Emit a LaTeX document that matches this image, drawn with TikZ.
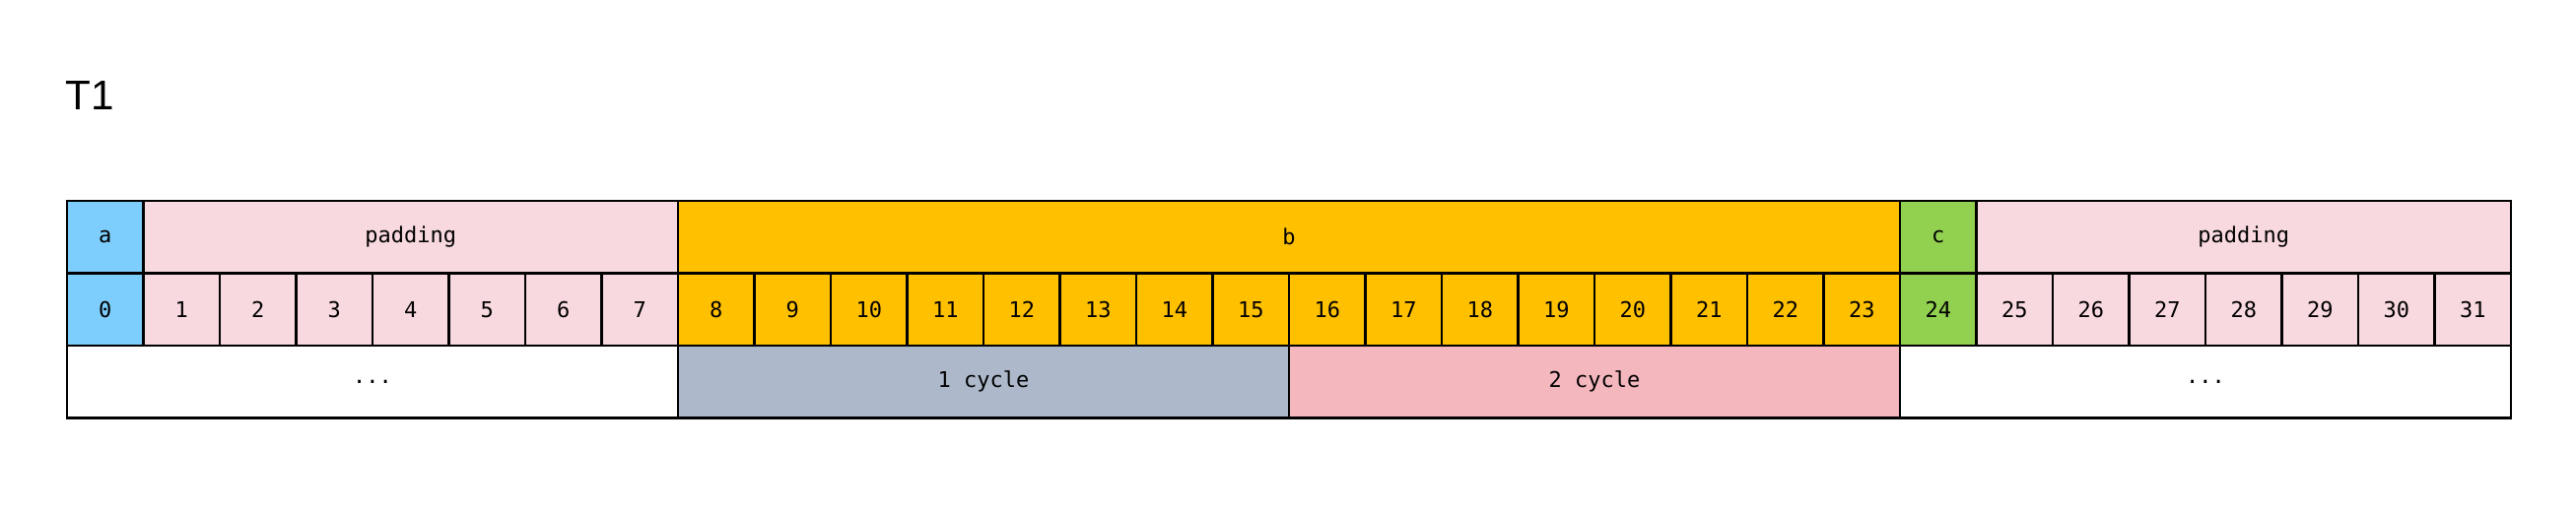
\documentclass[tikz,border=0pt]{standalone}
\usepackage{fontspec}
\setmainfont{Liberation Sans}
\setmonofont{DejaVu Sans Mono}
\usetikzlibrary{positioning}

\definecolor{fieldA}{HTML}{7DCEFD}
\definecolor{fieldPad}{HTML}{F8D9DF}
\definecolor{fieldB}{HTML}{FFC000}
\definecolor{fieldC}{HTML}{92D050}
\definecolor{cycleOne}{HTML}{ADB9CA}
\definecolor{cycleTwo}{HTML}{F4B7BE}

\begin{document}
\begin{tikzpicture}[
  cell/.style={draw,line width=1.2pt,minimum width=15.5mm,minimum height=14.7mm,inner sep=0pt,outer sep=0pt,font=\ttfamily\fontsize{12.5}{14}\selectfont},
  span/.style={cell,minimum width=#1*15.5mm},
  title/.style={anchor=base west,inner sep=0pt,font=\fontsize{24}{28}\selectfont}
]
\useasboundingbox (0,0) rectangle (52.28,10.4);
\node[title] (t1) at (1.32,8.16) {T1};
% byte row
\node[cell,fill=fieldA] (n0) at (1.36+0.5*1.55,4.115) {0};
\foreach \i in {1,...,7}
  \node[cell,fill=fieldPad] (n\i) at (1.36+\i*1.55+0.775,4.115) {\i};
\foreach \i in {8,...,23}
  \node[cell,fill=fieldB] (n\i) at (1.36+\i*1.55+0.775,4.115) {\i};
\node[cell,fill=fieldC] (n24) at (1.36+24*1.55+0.775,4.115) {24};
\foreach \i in {25,...,31}
  \node[cell,fill=fieldPad] (n\i) at (1.36+\i*1.55+0.775,4.115) {\i};
% fields
\node[cell,fill=fieldA,anchor=south] (a) at (n0.north) {a};
\node[span=7,fill=fieldPad,anchor=south] (pad1) at (n4.north) {padding};
\node[span=16,fill=fieldB,anchor=south] (b) at (n15.north east) {b};
\node[cell,fill=fieldC,anchor=south] (c) at (n24.north) {c};
\node[span=7,fill=fieldPad,anchor=south] (pad2) at (n28.north) {padding};
% cycles
\node[span=8,anchor=north] (dots1) at (n3.south east) {...};
\node[span=8,fill=cycleOne,anchor=north] (cyc1) at (n11.south east) {1 cycle};
\node[span=8,fill=cycleTwo,anchor=north] (cyc2) at (n19.south east) {2 cycle};
\node[span=8,anchor=north] (dots2) at (n27.south east) {...};
\end{tikzpicture}
\end{document}
